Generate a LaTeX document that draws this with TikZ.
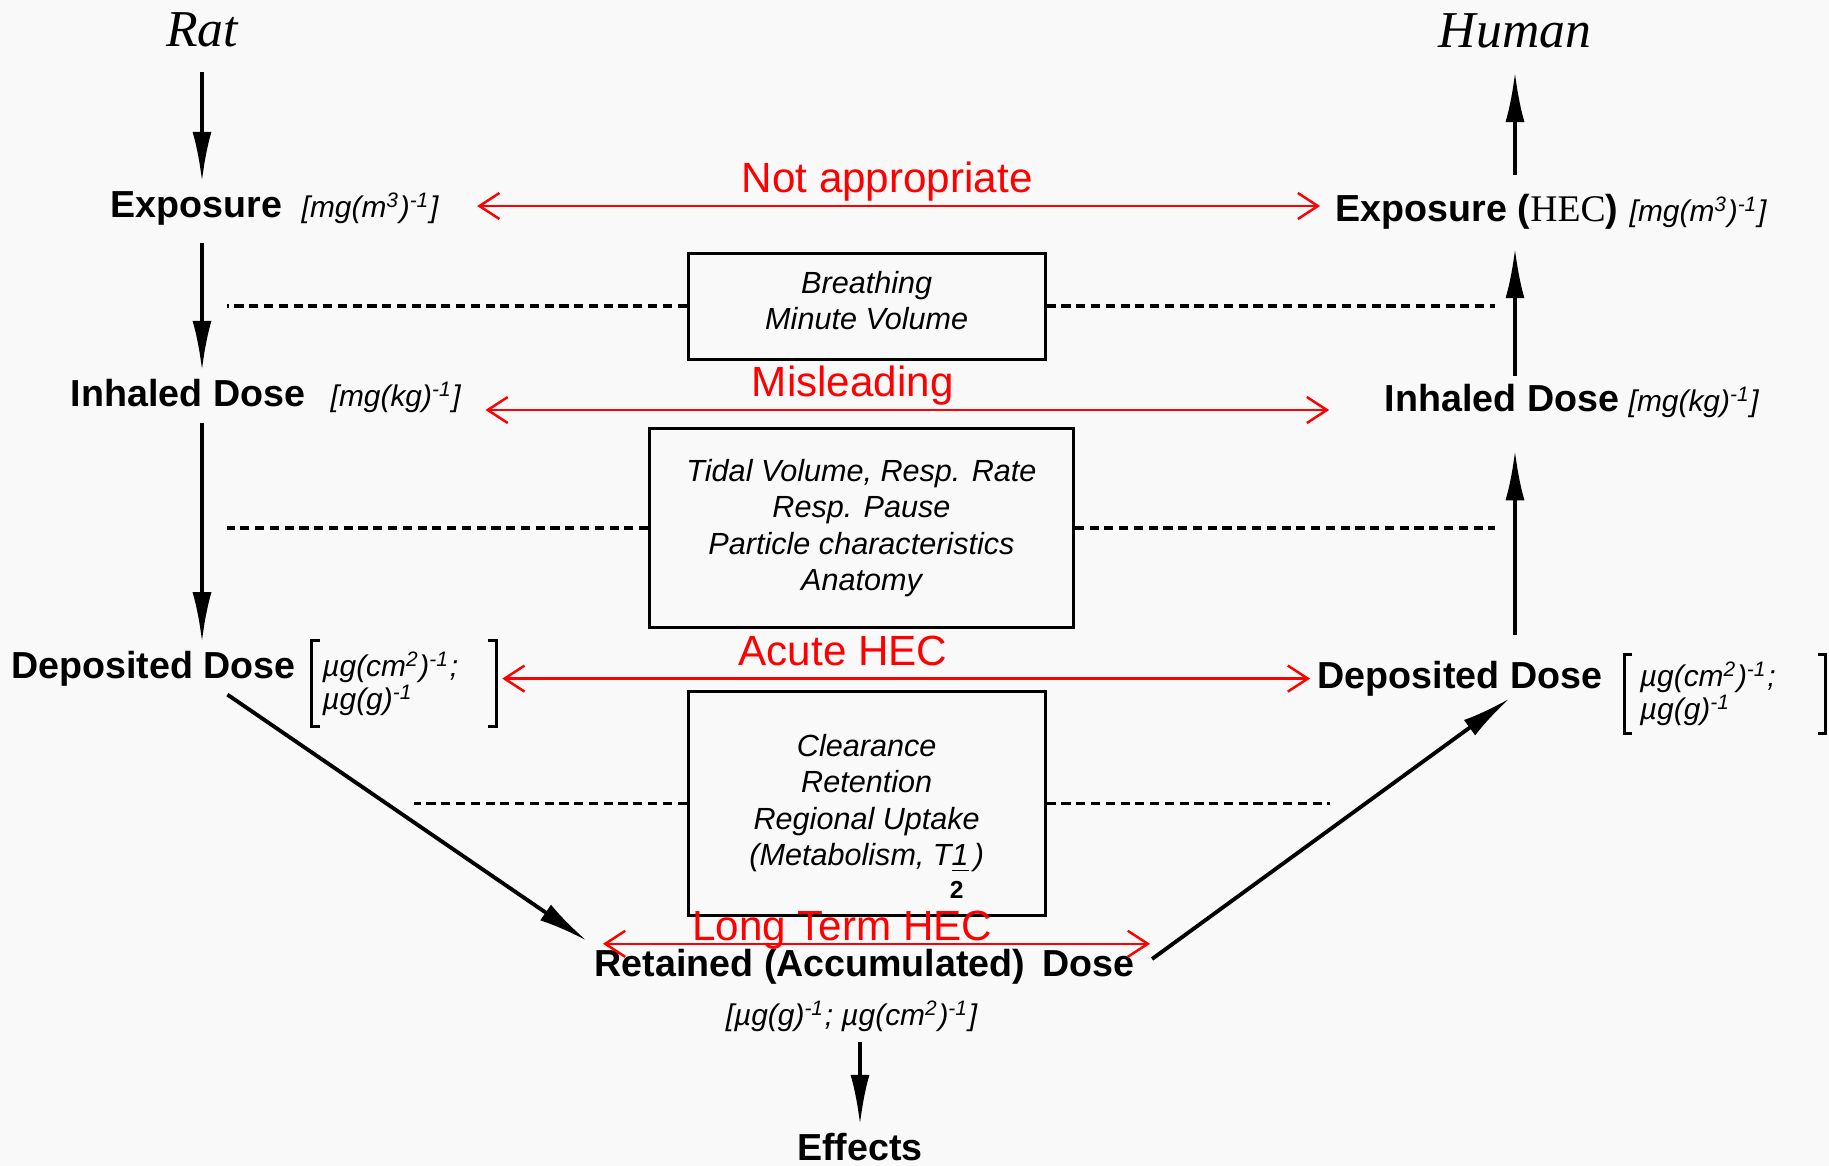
\documentclass[tikz,border=0pt]{standalone}
\usepackage{fontspec}
\setmainfont{Liberation Sans}
\newfontfamily\serifit{Liberation Serif}
\usetikzlibrary{arrows.meta}

\definecolor{bgpaper}{RGB}{249,249,249}
\definecolor{redline}{RGB}{255,0,0}

\tikzset{
  word/.style={font=\fontsize{10.7}{12}\selectfont\bfseries, text height=8pt, text depth=2.5pt, inner sep=2pt},
  unit/.style={font=\fontsize{8.5}{9.5}\selectfont\itshape, text height=8pt, text depth=2.5pt, inner sep=2pt, anchor=west},
  bunit/.style={font=\fontsize{8.5}{9.5}\selectfont\itshape, align=left, inner ysep=1pt},
  species/.style={font=\serifit\fontsize{14.7}{16}\selectfont\itshape, inner sep=2pt},
  factors/.style={draw, line width=0.8pt, align=center, font=\fontsize{8.7}{10.4}\selectfont\itshape},
  flow/.style={line width=1.1pt, -{Latex[length=0.5cm,width=0.19cm]}},
  scaling/.style={draw=redline, line width=0.7pt, {Straight Barb[length=0.2cm,width=0.26cm]}-{Straight Barb[length=0.2cm,width=0.26cm]}},
  verdict/.style={text=redline, font=\fontsize{12}{14}\selectfont, text height=8.6pt, text depth=2.5pt, inner sep=1pt},
  dotline/.style={line width=1pt, dash pattern=on 2.6pt off 1.6pt},
  brk/.style={line width=0.8pt},
}

\begin{document}
\begin{tikzpicture}[x=0.01cm, y=-0.01cm]
  \useasboundingbox (0,0) rectangle (1829,1166);
  \fill[bgpaper] (0,0) rectangle (1829,1166);

  % Species
  \node[species] (rat) at (202,30) {Rat};
  \node[species] (human) at (1515,31) {Human};

  % Rat side
  \node[word] (expL) at (196.5,208) {Exposure};
  \node[unit] (expLu) at (294,208) {[mg(m\textsuperscript{3})\textsuperscript{-1}]};
  \node[word] (inhL) at (188,397) {Inhaled Dose};
  \node[unit] (inhLu) at (323,397) {[mg(kg)\textsuperscript{-1}]};
  \node[word] (depL) at (153.4,668.4) {Deposited Dose};
  \node[bunit, text width=1.63cm, minimum height=0.84cm, inner xsep=0.1cm] (depLu) at (404,683.6)
    {µg(cm\textsuperscript{2})\textsuperscript{-1};\\µg(g)\textsuperscript{-1}};
  \draw[brk] ([xshift=0.08cm]depLu.north west) -- (depLu.north west) -- (depLu.south west) -- ([xshift=0.08cm]depLu.south west);
  \draw[brk] ([xshift=-0.08cm]depLu.north east) -- (depLu.north east) -- (depLu.south east) -- ([xshift=-0.08cm]depLu.south east);

  % Human side
  \node[word] (expR) at (1477,212) {Exposure ({\serifit\mdseries HEC})};
  \node[unit] (expRu) at (1622,212) {[mg(m\textsuperscript{3})\textsuperscript{-1}]};
  \node[word] (inhR) at (1502,402) {Inhaled Dose};
  \node[unit] (inhRu) at (1621,402) {[mg(kg)\textsuperscript{-1}]};
  \node[word] (depR) at (1460,679) {Deposited Dose};
  \node[bunit, text width=1.7cm, minimum height=0.77cm, inner xsep=0.15cm] (depRu) at (1725,694)
    {µg(cm\textsuperscript{2})\textsuperscript{-1};\\µg(g)\textsuperscript{-1}};
  \draw[brk] ([xshift=0.08cm]depRu.north west) -- (depRu.north west) -- (depRu.south west) -- ([xshift=0.08cm]depRu.south west);
  \draw[brk] ([xshift=-0.08cm]depRu.north east) -- (depRu.north east) -- (depRu.south east) -- ([xshift=-0.08cm]depRu.south east);

  % Factor boxes
  \node[factors, minimum width=3.57cm, minimum height=1.06cm] (box1) at (866.7,306.2)
    {Breathing\\Minute Volume\rule[-3.4pt]{0pt}{0pt}};
  \node[factors, minimum width=4.235cm, minimum height=1.995cm] (box2) at (861.5,528)
    {Tidal Volume, Resp. Rate\\Resp. Pause\\Particle characteristics\\Anatomy\rule[-1.5pt]{0pt}{0pt}};
  \node[factors, minimum width=3.57cm, minimum height=2.24cm] (box3) at (866.7,803.7)
    {\rule{0pt}{13.5pt}Clearance\\Retention\\Regional Uptake\\(Metabolism, T\underline{1}\,)\\[-1pt]\hspace*{1.8cm}{\upshape\bfseries\fontsize{7}{8}\selectfont 2}};

  % Retained dose and effects
  \node[word] (ret) at (864.5,967) {Retained (Accumulated)\hspace{0.45em}Dose};
  \node[unit, anchor=center] (retU) at (851.5,1016) {[µg(g)\textsuperscript{-1}; µg(cm\textsuperscript{2})\textsuperscript{-1}]};
  \node[word] (eff) at (860,1151) {Effects};

  % Dashed guides
  \coordinate (lcol) at (227,0);
  \coordinate (rcol) at (1495,0);
  \coordinate (ldiag) at (414,0);
  \coordinate (rdiag) at (1330,0);
  \draw[dotline] (box1.west) -- (box1.west -| lcol);
  \draw[dotline] (box1.east) -- (box1.east -| rcol);
  \draw[dotline] (box2.west) -- (box2.west -| lcol);
  \draw[dotline] (box2.east) -- (box2.east -| rcol);
  \draw[dotline] (box3.west) -- (box3.west -| ldiag);
  \draw[dotline] (box3.east) -- (box3.east -| rdiag);

  % Rat flow
  \draw[flow, shorten <=0.17cm] (rat.south) -- (rat.south |- expL.north);
  \draw[flow, shorten <=0.09cm] (expL.south -| rat) -- (inhL.north -| rat);
  \draw[flow] (inhL.south -| rat) -- (depL.north -| rat);
  \draw[flow] ([xshift=0.74cm]depL.south) -- (ret.north west);

  % Human flow
  \draw[flow, shorten <=0.11cm, shorten >=0.16cm] (expR.north -| human) -- (human.south);
  \draw[flow, shorten >=0.1cm] (inhR.north -| human) -- (expR.south -| human);
  \draw[flow, shorten <=0.18cm, shorten >=0.22cm] (depR.north -| human) -- (inhR.south -| human);
  \draw[flow] ([xshift=0.1cm,yshift=0.08cm]ret.east) -- ([xshift=0.5cm,yshift=0.07cm]depR.south);
  \draw[flow] (eff.north |- retU.south) -- (eff.north);

  % Scaling comparisons
  \draw[scaling, shorten <=0.31cm, shorten >=0.08cm] ([yshift=0.02cm]expLu.east) -- ([yshift=0.02cm]expLu.east -| expR.west)
    node[verdict, midway, above] {Not appropriate};
  \draw[scaling, shorten <=0.17cm, shorten >=0.48cm] ([yshift=-0.13cm]inhLu.east) -- ([yshift=-0.13cm]inhLu.east -| inhR.west)
    node[verdict, pos=0.423, above] {Misleading};
  \draw[scaling, shorten <=0.06cm] ([yshift=0.05cm]depLu.east) -- ([yshift=0.05cm]depLu.east -| depR.west)
    node[verdict, pos=0.426, above] {Acute HEC};
  \draw[scaling, shorten <=0.16cm, shorten >=-0.08cm] ([yshift=-0.03cm]ret.north west) -- ([yshift=-0.03cm]ret.north east)
    node[verdict, pos=0.46, above, yshift=-0.1cm] {Long Term HEC};
\end{tikzpicture}
\end{document}
